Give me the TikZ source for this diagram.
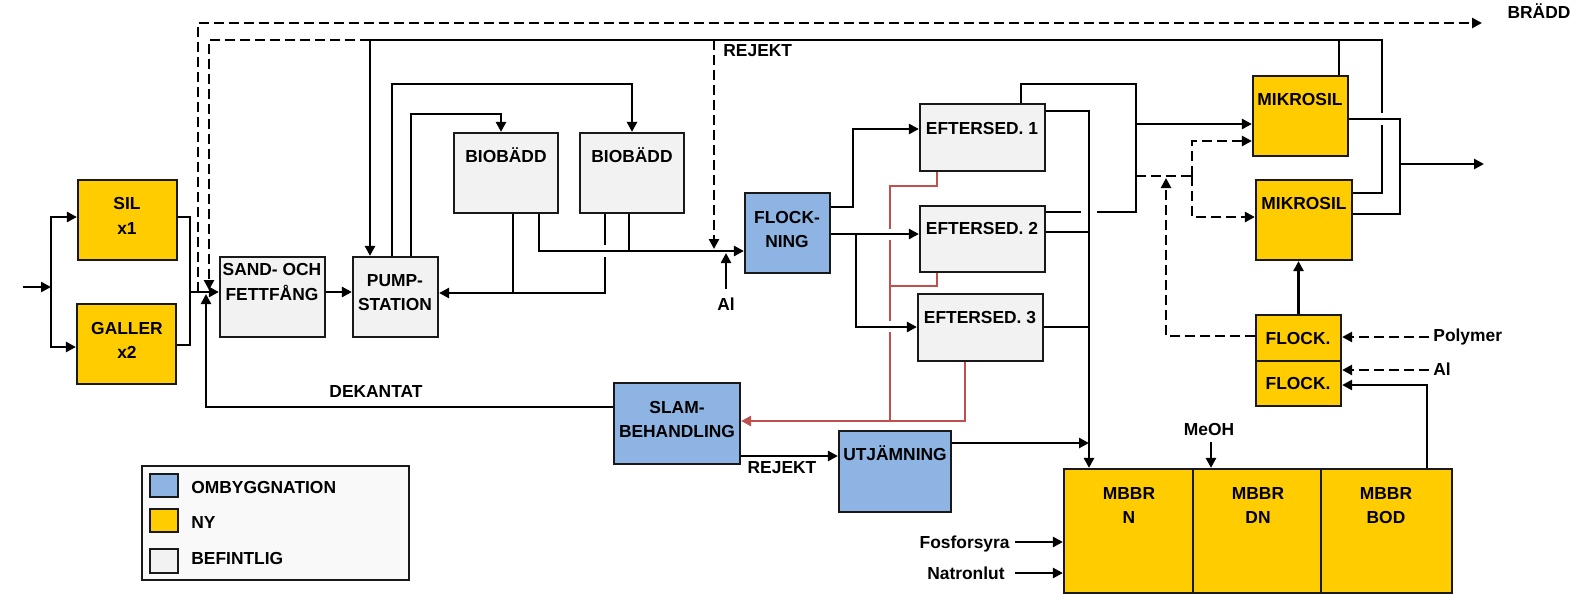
\documentclass[tikz,border=0pt]{standalone}
\usepackage{fontspec}
\setmainfont{Liberation Sans}
\usetikzlibrary{arrows.meta}
\definecolor{ny}{HTML}{FFCC00}
\definecolor{omb}{HTML}{8DB4E2}
\definecolor{bef}{HTML}{F2F2F2}
\definecolor{slamred}{HTML}{C0504D}
\definecolor{legfill}{HTML}{F9F9F9}
\tikzset{
 box/.style={draw=black!90, line width=1.1pt, inner sep=0pt, rectangle},
 txt/.style={font=\bfseries\fontsize{8.7}{10}\selectfont, inner sep=0pt, text=black},
 ln/.style={line width=1.4pt, black},
 arr/.style={ln, -{Triangle[length=5pt,width=5pt]}},
 dsh/.style={ln, dash pattern=on 5pt off 2.5pt},
 darr/.style={dsh, -{Triangle[length=5pt,width=5pt]}},
 rln/.style={line width=1.2pt, slamred},
 rarr/.style={rln, -{Triangle[length=5pt,width=5pt]}},
}
\newcommand\mybox[6]{\node[box,fill=#2,minimum width={0.5pt*(#5-#3)},minimum height={0.5pt*(#6-#4)}] (#1) at ({(#3+#5)/2},{(#4+#6)/2}) {};}
\newcommand\mytext[4]{\node[txt,anchor=base] (#1) at (#2,{#3+6}) {#4};}
\newcommand\mytextl[4]{\node[txt,anchor=base west] (#1) at (#2,{#3+6}) {#4};}
\newcommand\mytextr[4]{\node[txt,anchor=base east] (#1) at (#2,{#3+6}) {#4};}
\begin{document}
\begin{tikzpicture}[x=0.5pt,y=-0.5pt]
\useasboundingbox[fill=white] (0,0) rectangle (1584,607);
% boxes
\mybox{sil}{ny}{78}{180}{177}{260}
\mybox{gal}{ny}{77}{304}{176}{384}
\mybox{sand}{bef}{220}{257}{325}{337}
\mybox{pump}{bef}{353}{257}{438}{337}
\mybox{bioA}{bef}{454}{133}{558}{213}
\mybox{bioB}{bef}{580}{133}{684}{213}
\mybox{flk}{omb}{745}{193}{830}{273}
\mybox{efA}{bef}{920}{104}{1045}{171}
\mybox{efB}{bef}{920}{206}{1045}{272}
\mybox{efC}{bef}{918}{294}{1043}{361}
\mybox{mkA}{ny}{1253}{76}{1348}{156}
\mybox{mkB}{ny}{1256}{180}{1352}{260}
\mybox{flA}{ny}{1256}{315}{1341}{361}
\mybox{flB}{ny}{1256}{361}{1341}{406}
\mybox{slam}{omb}{614}{383}{740}{464}
\mybox{utj}{omb}{839}{431}{951}{512}
\mybox{mbN}{ny}{1064}{469}{1193}{593}
\mybox{mbD}{ny}{1193}{469}{1321}{593}
\mybox{mbB}{ny}{1321}{469}{1452}{593}
\mybox{leg}{legfill}{142}{466}{409}{580}
\mybox{swO}{omb}{150}{474}{178}{497}
\mybox{swN}{ny}{150}{509}{178}{532}
\mybox{swB}{bef}{150}{549}{178}{573}
% texts
\mytext{tSa}{127}{203}{SIL}
\mytext{tSb}{127}{228}{x1}
\mytext{tGa}{127}{328}{GALLER}
\mytext{tGb}{127}{352}{x2}
\mytext{tFa}{272}{269}{SAND- OCH}
\mytext{tFb}{272}{294}{FETTFÅNG}
\mytext{tPa}{395}{280}{PUMP-}
\mytext{tPb}{395}{304}{STATION}
\mytext{tBa}{506}{156}{BIOBÄDD}
\mytext{tBb}{632}{156}{BIOBÄDD}
\mytext{tKa}{787}{217}{FLOCK-}
\mytext{tKb}{787}{241}{NING}
\mytext{tE1}{982}{128}{EFTERSED. 1}
\mytext{tE2}{982}{228}{EFTERSED. 2}
\mytext{tE3}{980}{317}{EFTERSED. 3}
\mytext{tM1}{1300}{99}{MIKROSIL}
\mytext{tM2}{1304}{203}{MIKROSIL}
\mytext{tL1}{1298}{338}{FLOCK.}
\mytext{tL2}{1298}{383}{FLOCK.}
\mytext{tSLa}{677}{407}{SLAM-}
\mytext{tSLb}{677}{431}{BEHANDLING}
\mytext{tU}{895}{454}{UTJÄMNING}
\mytext{tN1}{1129}{493}{MBBR}
\mytext{tN2}{1129}{517}{N}
\mytext{tD1}{1258}{493}{MBBR}
\mytext{tD2}{1258}{517}{DN}
\mytext{tO1}{1386}{493}{MBBR}
\mytext{tO2}{1386}{517}{BOD}
\mytextl{tLg1}{191}{487}{OMBYGGNATION}
\mytextl{tLg2}{191}{522}{NY}
\mytextl{tLg3}{191}{558}{BEFINTLIG}
\mytext{tBr}{1539}{12}{BRÄDD}
\mytextl{tRj}{723}{50}{REJEKT}
\mytext{tAl}{726}{304}{Al}
\mytext{tDek}{376}{391}{DEKANTAT}
\mytext{tRj2}{782}{467}{REJEKT}
\mytextl{tPol}{1433}{335}{Polymer}
\mytextl{tAl2}{1433}{369}{Al}
\mytext{tMe}{1209}{429}{MeOH}
\mytextr{tFos}{1010}{542}{Fosforsyra}
\mytextr{tNat}{1005}{573}{Natronlut}
% coordinates
\coordinate (in0) at (23,287);
\coordinate (br) at (51,287);
\coordinate (j1) at (190,292);
\coordinate (bd0) at (198,292);
\coordinate (bdEnd) at (1482,23);
\coordinate (rj0) at (370,40);
\coordinate (outEnd) at (1484,164);
% connectors
\draw[arr] (in0) -- (br);
\draw[arr] (br) |- (sil.west |- 0,217);
\draw[arr] (br) |- (gal.west |- 0,347);
\draw[ln] (sil.east |- 0,217) -| (j1);
\draw[ln] (gal.east |- 0,345) -| (j1);
\draw[arr] (j1) -- (sand.west |- j1);
\draw[darr] (bd0) |- (bdEnd);
\draw[darr] (rj0) -| (209,290);
\draw[arr] (mkA.north -| 1339,0) |- (rj0) -- (pump.north -| rj0);
\draw[ln] (mkB.east |- 0,193) -| (1382,125);
\draw[ln] (1382,113) |- (1339,40);
\draw[darr] (714,40) -- (714,249);
\draw[arr] (pump.north -| 392,0) |- (632,84) -- (bioB.north -| 632,0);
\draw[arr] (pump.north -| 411,0) |- (501,114) -- (bioA.north -| 501,0);
\draw[ln] (bioA.south -| 513,0) -- (513,293);
\draw[arr] (bioA.south -| 539,0) |- (flk.west |- 0,251);
\draw[ln] (bioB.south -| 629,0) -- (629,251);
\draw[ln] (bioB.south -| 605,0) -- (605,245);
\draw[arr] (605,257) |- (pump.east |- 0,293);
\draw[arr] (726,289) -- (726,253);
\draw[arr] (flk.east |- 0,207) -| (853,129) -- (efA.west |- 0,129);
\draw[arr] (flk.east |- 0,234) -- (efB.west |- 0,234);
\draw[arr] (856,234) |- (efC.west |- 0,327);
\draw[rln] (efA.south -| 937,0) |- (890,186) -- (890,229);
\draw[rln] (890,240) -- (890,321);
\draw[rln] (890,332) -- (890,421);
\draw[rln] (efB.south -| 937,0) |- (890,286);
\draw[rarr] (efC.south -| 965,0) |- (slam.east |- 0,421);
\draw[ln] (efA.north -| 1021,0) |- (1136,84) -- (1136,212) -- (1097,212);
\draw[ln] (efB.east |- 0,212) -- (1081,212);
\draw[arr] (1136,124) -- (mkA.west |- 0,124);
\draw[dsh] (1136,176) -- (1192,176);
\draw[darr] (1192,176) |- (mkA.west |- 0,141);
\draw[darr] (1192,176) |- (mkB.west |- 0,217);
\draw[arr] (efA.east |- 0,111) -| (mbN.north -| 1089,0);
\draw[ln] (efB.east |- 0,232) -- (1089,232);
\draw[ln] (efC.east |- 0,327) -- (1089,327);
\draw[arr] (utj.east |- 0,443) -- (1089,443);
\draw[ln] (mkA.east |- 0,119) -| (1400,214) -- (mkB.east |- 0,214);
\draw[arr] (1400,164) -- (outEnd);
\draw[arr] (flA.north) -- (flA.north |- mkB.south);
\draw[darr] (flA.west |- 0,336) -| (1166,178);
\draw[darr] (1429,337) -- (flA.east |- 0,337);
\draw[darr] (1429,370) -- (flB.east |- 0,370);
\draw[arr] (mbB.north -| 1427,0) |- (flB.east |- 0,385);
\draw[arr] (1211,442) -- (mbD.north -| 1211,0);
\draw[arr] (1015,542) -- (mbN.west |- 0,542);
\draw[arr] (1015,573) -- (mbN.west |- 0,573);
\draw[arr] (slam.east |- 0,456) -- (utj.west |- 0,456);
\draw[arr] (slam.west |- 0,407) -| (206,294);
\draw[arr] (sand.east |- 0,292) -- (pump.west |- 0,292);
\end{tikzpicture}
\end{document}
